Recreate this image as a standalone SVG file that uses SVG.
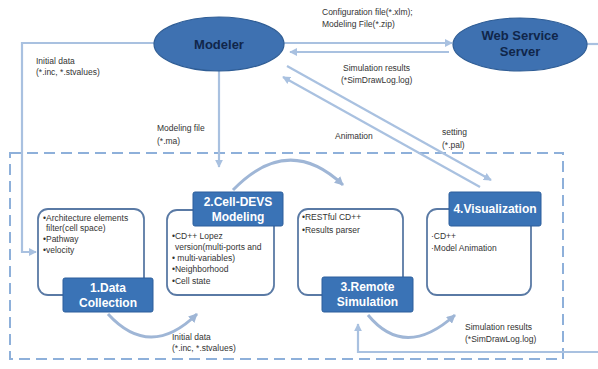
<svg xmlns="http://www.w3.org/2000/svg" width="598" height="369" viewBox="0 0 598 369">
<style>
.conn{fill:none;stroke:#a9c1e0;stroke-width:2.2}
.arc{fill:none;stroke:#9fb6d6;stroke-width:3}
.dash{fill:none;stroke:#8eb0da;stroke-width:2;stroke-dasharray:11 6}
.ell{fill:#3e71b1;stroke:#2f5d95;stroke-width:1.2}
.etxt{font-family:"Liberation Sans",Arial,sans-serif;font-weight:bold;font-size:13px;fill:#10264a;text-anchor:middle}
.body{fill:#fff;stroke:#5a7aa5;stroke-width:1.8}
.lab{fill:#3a73b6;stroke:#2c5f9c;stroke-width:1}
.ltxt{font-family:"Liberation Sans",Arial,sans-serif;font-weight:bold;font-size:12px;fill:#fff;text-anchor:middle}
.sm{font-family:"Liberation Sans",Arial,sans-serif;font-size:8.5px;fill:#333}
</style>
<defs>
<marker id="ah" viewBox="0 0 10 10" refX="9" refY="5" markerWidth="8" markerHeight="8" markerUnits="userSpaceOnUse" orient="auto">
<path d="M0,0 L10,5 L0,10 z" fill="#a9c1e0"/>
</marker>
<marker id="ah2" viewBox="0 0 10 10" refX="9" refY="5" markerWidth="9" markerHeight="9" markerUnits="userSpaceOnUse" orient="auto">
<path d="M0,0 L10,5 L0,10 z" fill="#9fb6d6"/>
</marker>
</defs>

<rect class="dash" x="10" y="153" width="553" height="206"/>

<g id="connectors">
<path class="conn" d="M154,43 H22 V252 H36" marker-end="url(#ah)"/>
<path class="conn" d="M219,71 V167" marker-end="url(#ah)"/>
<path class="conn" d="M284,43 H452" marker-end="url(#ah)"/>
<path class="conn" d="M449,52 H290" marker-end="url(#ah)"/>
<path class="conn" d="M287,66 L491,180" marker-end="url(#ah)"/>
<path class="conn" d="M480,187 L283,77" marker-end="url(#ah)"/>
<path class="conn" d="M587,44 H598"/>
<path class="conn" d="M598,352 H358 V324" marker-end="url(#ah)"/>
<path class="arc" d="M108,314 Q150,360 197,314" marker-end="url(#ah2)"/>
<path class="arc" d="M233,190 Q288,133 343,185" marker-end="url(#ah2)"/>
<path class="arc" d="M368,315 Q405,360 455,315" marker-end="url(#ah2)"/>
<text class="sm" x="322" y="15">Configuration file(*.xlm);</text>
<text class="sm" x="322" y="27">Modeling File(*.zip)</text>
<text class="sm" x="343" y="71">Simulation results</text>
<text class="sm" x="341" y="83">(*SimDrawLog.log)</text>
<text class="sm" x="36" y="64">Initial data</text>
<text class="sm" x="36" y="75">(*.inc, *.stvalues)</text>
<text class="sm" x="157" y="131">Modeling file</text>
<text class="sm" x="157" y="144">(*.ma)</text>
<text class="sm" x="335" y="139">Animation</text>
<text class="sm" x="442" y="135">setting</text>
<text class="sm" x="442" y="148">(*.pal)</text>
<text class="sm" x="172" y="340">Initial data</text>
<text class="sm" x="172" y="351">(*.inc, *.stvalues)</text>
<text class="sm" x="465" y="330">Simulation results</text>
<text class="sm" x="465" y="342">(*SimDrawLog.log)</text>
</g>

<g id="modeler">
<ellipse class="ell" cx="219" cy="44" rx="65" ry="27"/>
<text class="etxt" x="219" y="49">Modeler</text>
</g>

<g id="webservice">
<ellipse class="ell" cx="520" cy="44.5" rx="67" ry="26.5"/>
<text class="etxt" x="520" y="40">Web Service</text>
<text class="etxt" x="520" y="56">Server</text>
</g>

<g id="datacollection">
<rect class="body" x="38" y="209" width="106" height="86" rx="10"/>
<text class="sm" x="43" y="221">•Architecture elements</text>
<text class="sm" x="46" y="231">filter(cell space)</text>
<text class="sm" x="43" y="242">•Pathway</text>
<text class="sm" x="43" y="253">•velocity</text>
<rect class="lab" x="63" y="278" width="90" height="34" rx="2"/>
<text class="ltxt" x="108" y="292">1.Data</text>
<text class="ltxt" x="108" y="307">Collection</text>
</g>

<g id="celldevs">
<rect class="body" x="167" y="210" width="107" height="85" rx="10"/>
<text class="sm" x="172" y="239">•CD++ Lopez</text>
<text class="sm" x="175" y="250">version(multi-ports and</text>
<text class="sm" x="172" y="261">• multi-variables)</text>
<text class="sm" x="172" y="272">•Neighborhood</text>
<text class="sm" x="172" y="284">•Cell state</text>
<rect class="lab" x="193" y="192" width="90" height="34" rx="2"/>
<text class="ltxt" x="238" y="206">2.Cell-DEVS</text>
<text class="ltxt" x="238" y="221">Modeling</text>
</g>

<g id="remotesim">
<rect class="body" x="298" y="209" width="105" height="86" rx="10"/>
<text class="sm" x="302" y="220">•RESTful CD++</text>
<text class="sm" x="302" y="233">•Results parser</text>
<rect class="lab" x="322" y="277" width="91" height="35" rx="2"/>
<text class="ltxt" x="367.5" y="291">3.Remote</text>
<text class="ltxt" x="367.5" y="306">Simulation</text>
</g>

<g id="visualization">
<rect class="body" x="427" y="209" width="104" height="86" rx="10"/>
<text class="sm" x="431" y="239">·CD++</text>
<text class="sm" x="431" y="251">·Model Animation</text>
<rect class="lab" x="449" y="192" width="92" height="34" rx="2"/>
<text class="ltxt" x="495" y="213">4.Visualization</text>
</g>
</svg>
